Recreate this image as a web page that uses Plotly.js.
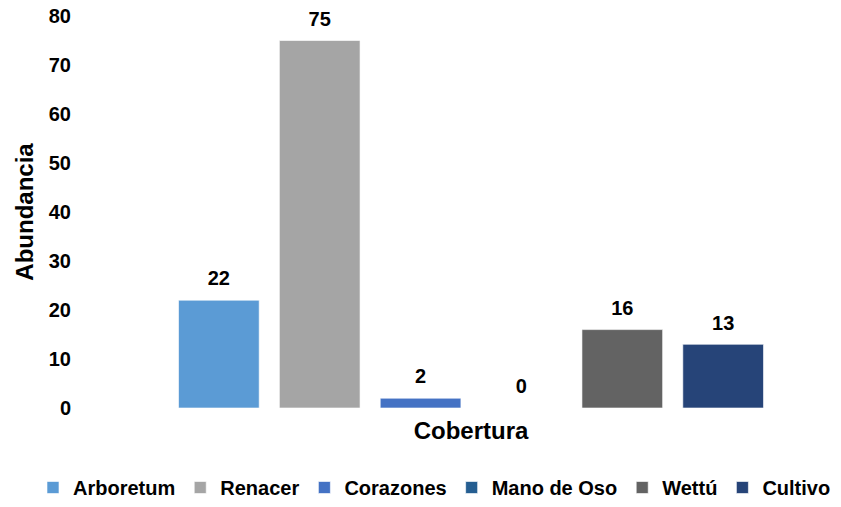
<!DOCTYPE html>
<html>
<head>
<meta charset="utf-8">
<script src="https://cdn.plot.ly/plotly-3.0.1.min.js"></script>
<style>html,body{margin:0;padding:0;background:#fff;}#chart{width:841px;height:507px;}</style>
</head>
<body>
<div id="chart"></div>
<script>
const category = ["Cobertura"];
const seriesNames = ["Arboretum", "Renacer", "Corazones", "Mano de Oso", "Wettú", "Cultivo"];
const seriesValues = [22, 75, 2, 0, 16, 13];
const seriesColors = ["#5B9BD5", "#A5A5A5", "#4472C4", "#255E91", "#636363", "#264478"];

const FONT = "Liberation Sans, Arial, sans-serif";
const GAP = 0.18;

const barTraces = seriesNames.map((name, i) => ({
  type: "bar",
  name: name,
  x: category,
  y: [seriesValues[i]],
  marker: {color: seriesColors[i], line: {color: "rgba(255,255,255,0.6)", width: 1}},
  hoverinfo: "name+y"
}));

const labelTraces = seriesNames.map((name, i) => ({
  type: "scatter",
  mode: "markers+text",
  name: name + " label",
  showlegend: false,
  x: category,
  y: [seriesValues[i]],
  text: [String(seriesValues[i])],
  textposition: "top center",
  textfont: {family: FONT, size: 20, color: "#000", weight: "bold"},
  marker: {size: 14, color: "rgba(0,0,0,0)"},
  cliponaxis: false,
  hoverinfo: "skip"
}));

const layout = {
  width: 841, height: 507,
  margin: {l: 102, r: 1, t: 16, b: 98},
  paper_bgcolor: "#fff", plot_bgcolor: "#fff",
  font: {family: FONT, color: "#000", size: 20, weight: "bold"},
  barmode: "group",
  scattermode: "group",
  bargap: GAP,
  scattergap: GAP,
  bargroupgap: 0.2,
  showlegend: true,
  legend: {orientation: "h", xref: "paper", x: -0.0935, xanchor: "left",
           yref: "paper", y: -0.2, yanchor: "middle",
           font: {family: FONT, size: 20, color: "#000", weight: "bold"}, traceorder: "normal"},
  xaxis: {
    showticklabels: false, showline: false, showgrid: false, zeroline: false, ticks: "",
    title: {text: "Cobertura", standoff: 14, font: {family: FONT, size: 24, color: "#000", weight: "bold"}}
  },
  yaxis: {
    range: [0, 80], dtick: 10, showgrid: false, showline: false, zeroline: false,
    ticks: "outside", ticklen: 26, tickcolor: "rgba(0,0,0,0)",
    tickfont: {family: FONT, size: 20, color: "#000", weight: "bold"},
    title: {text: "Abundancia", standoff: 8, font: {family: FONT, size: 24, color: "#000", weight: "bold"}}
  }
};

Plotly.newPlot("chart", barTraces.concat(labelTraces), layout, {displayModeBar: false, staticPlot: true});
</script>
</body>
</html>
